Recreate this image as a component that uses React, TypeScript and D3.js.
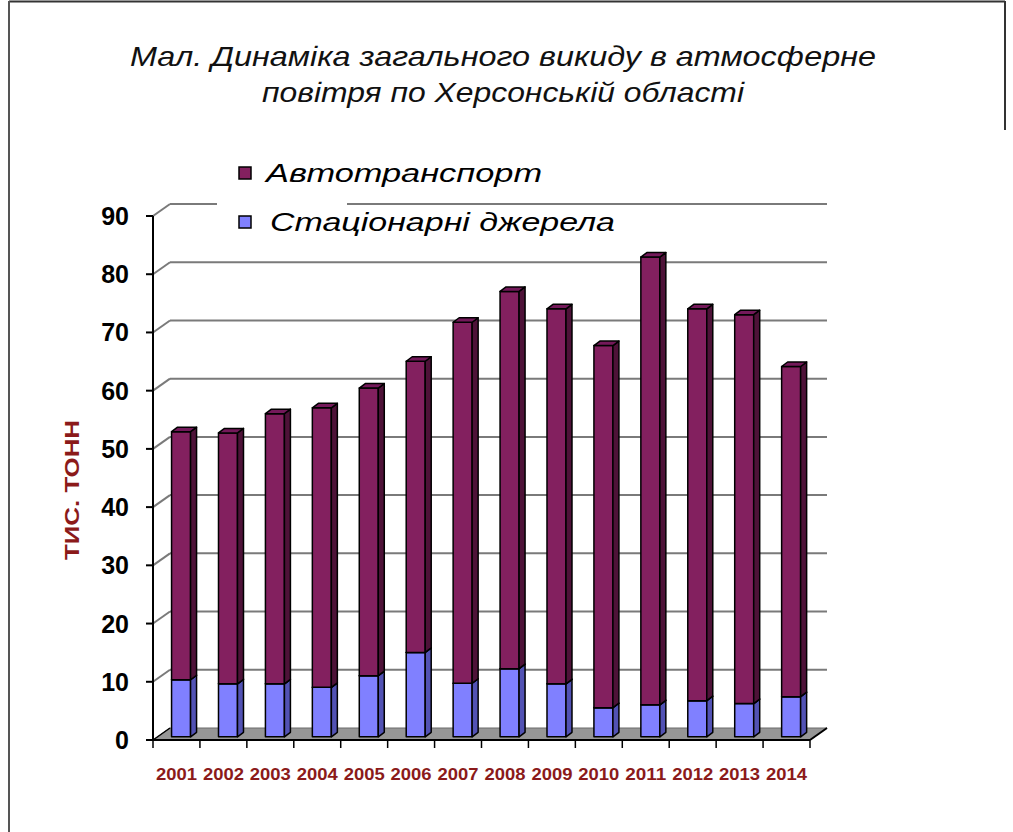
import React from 'react';
import * as d3 from 'd3';

const years = ['2001','2002','2003','2004','2005','2006','2007','2008','2009','2010','2011','2012','2013','2014'];
const stationary = [9.8, 9.1, 9.1, 8.5, 10.5, 14.5, 9.2, 11.7, 9.1, 5.0, 5.5, 6.2, 5.7, 6.9];
const transport = [42.6, 43.1, 46.4, 48.0, 49.4, 50.0, 62.0, 64.8, 64.4, 62.2, 76.9, 67.3, 66.8, 56.7];
const yTicks = [0, 10, 20, 30, 40, 50, 60, 70, 80, 90];
const seriesNames = ['Автотранспорт', 'Стаціонарні джерела'];
const titleLines = ['Мал.  Динаміка загального викиду в атмосферне', 'повітря по Херсонській області'];
const yTitle = 'ТИС. ТОНН';

const FONT = '"Liberation Sans", Arial, sans-serif';
const DARKRED = '#8B1A1A';

export default function App() {
  const x = d3.scaleBand<string>().domain(years).range([153, 810]).padding(0);
  const y = d3.scaleLinear().domain([0, 90]).range([740, 216]);
  const wallDx = 17, wallDy = -12;
  const frontDx = 4.6, frontDy = -3.2;
  const barW = 19, bdx = 6, bdy = -4.5;
  const x0 = 153, x1 = 810;

  const colors = {
    tr: { front: '#83205F', side: '#4E1238', top: '#74195A' },
    st: { front: '#8080FF', side: '#5252B4', top: '#6C6CE0' },
  };

  const box = (bx: number, yTop: number, yBot: number, c: { front: string; side: string; top: string }, key: string) => (
    <g key={key} stroke="#000" strokeWidth={1.5} strokeLinejoin="round">
      <rect x={bx} y={yTop} width={barW} height={yBot - yTop} fill={c.front} />
      <polygon points={`${bx + barW},${yTop} ${bx + barW + bdx},${yTop + bdy} ${bx + barW + bdx},${yBot + bdy} ${bx + barW},${yBot}`} fill={c.side} />
      <polygon points={`${bx},${yTop} ${bx + bdx},${yTop + bdy} ${bx + barW + bdx},${yTop + bdy} ${bx + barW},${yTop}`} fill={c.top} />
    </g>
  );

  return (
    <svg width={1013} height={832} style={{ position: 'absolute', left: 0, top: 0, background: '#fff' }}>
      {/* frame */}
      <line x1={9} y1={1.5} x2={1005} y2={1.5} stroke="#333" strokeWidth={2} />
      <line x1={9} y1={1} x2={9} y2={832} stroke="#555" strokeWidth={2} />
      <line x1={1005} y1={1} x2={1005} y2={130} stroke="#333" strokeWidth={2} />

      {/* title */}
      {titleLines.map((t, i) => (
        <text key={t} x={503} y={66 + i * 36} textAnchor="middle" fontFamily={FONT} fontStyle="italic" fontSize={28}
          textLength={i === 0 ? 746 : 482} lengthAdjust="spacingAndGlyphs" fill="#111">{t}</text>
      ))}

      {/* gridlines on back wall + left wall diagonals */}
      {yTicks.filter(t => t > 0).map(t => (
        <g key={t} stroke="#7a7a7a" strokeWidth={2} fill="none">
          <line x1={x0} y1={y(t)} x2={x0 + wallDx} y2={y(t) + wallDy} />
          <line x1={x0 + wallDx} y1={y(t) + wallDy} x2={x1 + wallDx} y2={y(t) + wallDy} />
        </g>
      ))}

      {/* legend background */}
      <rect x={217} y={150} width={130} height={88} fill="#fff" />

      {/* floor */}
      <polygon points={`${x0},${y(0)} ${x1},${y(0)} ${x1 + wallDx},${y(0) + wallDy} ${x0 + wallDx},${y(0) + wallDy}`} fill="#969696" stroke="#6a6a6a" strokeWidth={1} />
      <line x1={x0} y1={y(0)} x2={x1} y2={y(0)} stroke="#000" strokeWidth={2} />
      <line x1={x1} y1={y(0)} x2={x1 + wallDx} y2={y(0) + wallDy} stroke="#000" strokeWidth={2} />
      <line x1={x0} y1={y(0)} x2={x0 + wallDx} y2={y(0) + wallDy} stroke="#000" strokeWidth={1.5} />

      {/* y axis */}
      <line x1={x0} y1={y(90)} x2={x0} y2={y(0)} stroke="#000" strokeWidth={2} />
      {yTicks.map(t => (
        <g key={t}>
          <line x1={x0 - 7} y1={y(t)} x2={x0} y2={y(t)} stroke="#000" strokeWidth={2} />
          <text x={129} y={y(t)} dy="0.36em" textAnchor="end" fontFamily={FONT} fontWeight="bold" fontSize={25} fill="#000">{t}</text>
        </g>
      ))}
      <text transform={`translate(79,490) rotate(-90)`} textAnchor="middle" fontFamily={FONT} fontWeight="bold" fontSize={21}
        fill={DARKRED} textLength={140} lengthAdjust="spacingAndGlyphs">{yTitle}</text>

      {/* x ticks & labels */}
      {[...years.map(yr => x(yr) as number), x1].map((tx, i) => (
        <line key={i} x1={tx} y1={y(0)} x2={tx} y2={y(0) + 8} stroke="#000" strokeWidth={1.5} />
      ))}
      {years.map(yr => (
        <text key={yr} x={(x(yr) as number) + x.bandwidth() / 2} y={780} textAnchor="middle" fontFamily={FONT}
          fontWeight="bold" fontSize={17} fill={DARKRED} textLength={41} lengthAdjust="spacingAndGlyphs">{yr}</text>
      ))}

      {/* bars */}
      {years.map((yr, i) => {
        const bx = (x(yr) as number) + x.bandwidth() / 2 - barW / 2 + frontDx;
        const s = stationary[i];
        const tot = s + transport[i];
        return (
          <g key={yr}>
            {box(bx, y(s) + frontDy, y(0) + frontDy, colors.st, 'st')}
            {box(bx, y(tot) + frontDy, y(s) + frontDy, colors.tr, 'tr')}
          </g>
        );
      })}

      {/* legend */}
      <rect x={239} y={167} width={12} height={12} fill={colors.tr.front} stroke="#000" strokeWidth={1.5} />
      <text x={266} y={182} fontFamily={FONT} fontStyle="italic" fontSize={26} fill="#000" textLength={276} lengthAdjust="spacingAndGlyphs">{seriesNames[0]}</text>
      <rect x={239} y={216} width={12} height={12} fill={colors.st.front} stroke="#000" strokeWidth={1.5} />
      <text x={270} y={231} fontFamily={FONT} fontStyle="italic" fontSize={26} fill="#000" textLength={345} lengthAdjust="spacingAndGlyphs">{seriesNames[1]}</text>
    </svg>
  );
}
